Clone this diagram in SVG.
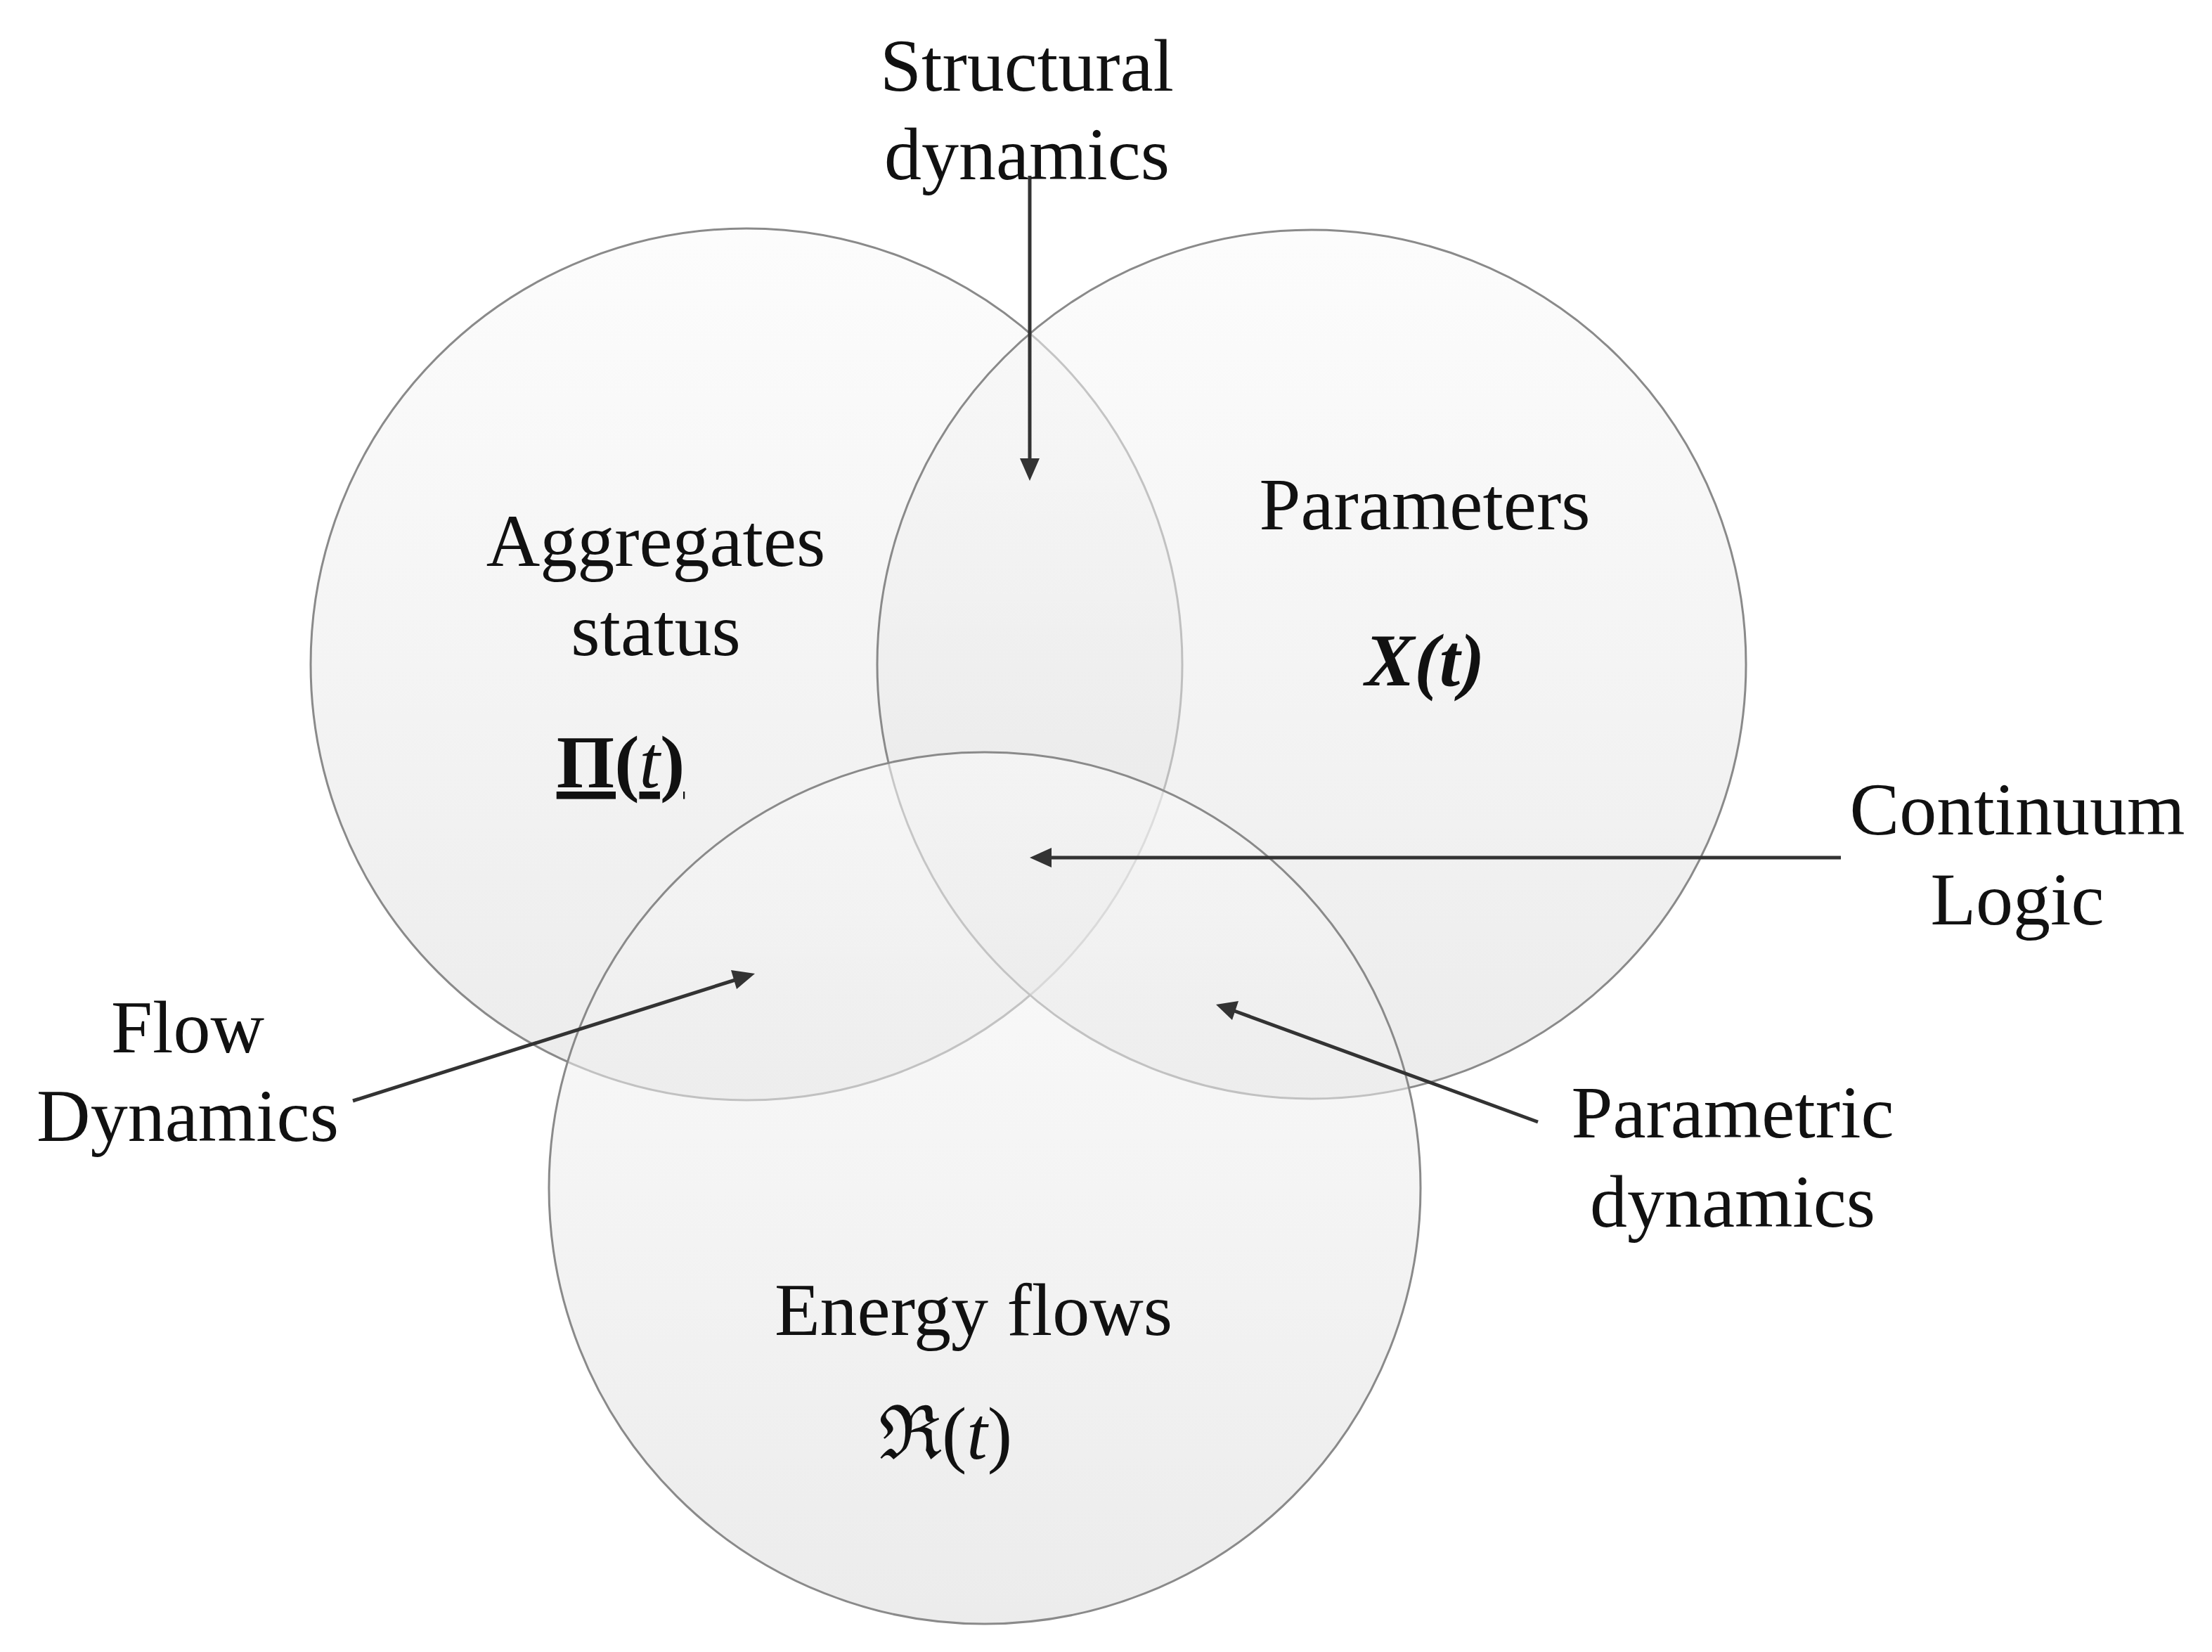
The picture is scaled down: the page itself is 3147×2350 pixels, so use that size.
<svg xmlns="http://www.w3.org/2000/svg" width="3147" height="2350" viewBox="0 0 3147 2350">
<style>
.c{stroke:#8a8a8a;stroke-width:3;fill:url(#g);fill-opacity:0.55}
.t{font-family:"Liberation Serif",serif;font-size:106px;fill:#111;text-anchor:middle}
</style>
<defs>
<linearGradient id="g" x1="0" y1="0" x2="0" y2="1"><stop offset="0" stop-color="#fafafa"/><stop offset="1" stop-color="#dcdcdc"/></linearGradient>
</defs>
<rect width="3147" height="2350" fill="#fff"/>
<g id="aggregates"><circle class="c" cx="1062" cy="945" r="620"/></g>
<g id="parameters"><circle class="c" cx="1866" cy="945" r="618"/></g>
<g id="energy"><circle class="c" cx="1401" cy="1690" r="620"/></g>
<g id="connectors">
<path d="M1465,250V660" stroke="#333" stroke-width="5"/><path d="M1451,652L1465,684L1479,652z" fill="#333"/>
<path d="M2619,1220H1490" stroke="#333" stroke-width="5"/><path d="M1496,1206L1465,1220L1496,1234z" fill="#333"/>
<path d="M502,1566L1046,1394" stroke="#333" stroke-width="5"/><path d="M1040,1380L1074,1385L1048,1407z" fill="#333"/>
<path d="M2188,1596L1756,1438" stroke="#333" stroke-width="5"/><path d="M1762,1424L1730,1429L1753,1451z" fill="#333"/>
</g>
<g id="labels">
<text class="t" x="1461" y="129">Structural</text>
<text class="t" x="1461" y="255">dynamics</text>
<text class="t" x="933" y="805">Aggregates</text>
<text class="t" x="933" y="932">status</text>
<text class="t" x="883" y="1120" font-weight="bold" text-decoration="underline">Π(<tspan font-style="italic" font-weight="normal">t</tspan>)</text>
<text class="t" x="2027" y="753">Parameters</text>
<text class="t" x="2027" y="975" font-weight="bold" font-style="italic">X(t)</text>
<text class="t" x="2870" y="1187">Continuum</text>
<text class="t" x="2870" y="1315">Logic</text>
<text class="t" x="267" y="1497">Flow</text>
<text class="t" x="267" y="1623">Dynamics</text>
<text class="t" x="2465" y="1618">Parametric</text>
<text class="t" x="2465" y="1745">dynamics</text>
<text class="t" x="1385" y="1899">Energy flows</text>
<text class="t" x="1345" y="2075">ℜ(<tspan font-style="italic">t</tspan>)</text>
</g>
</svg>
